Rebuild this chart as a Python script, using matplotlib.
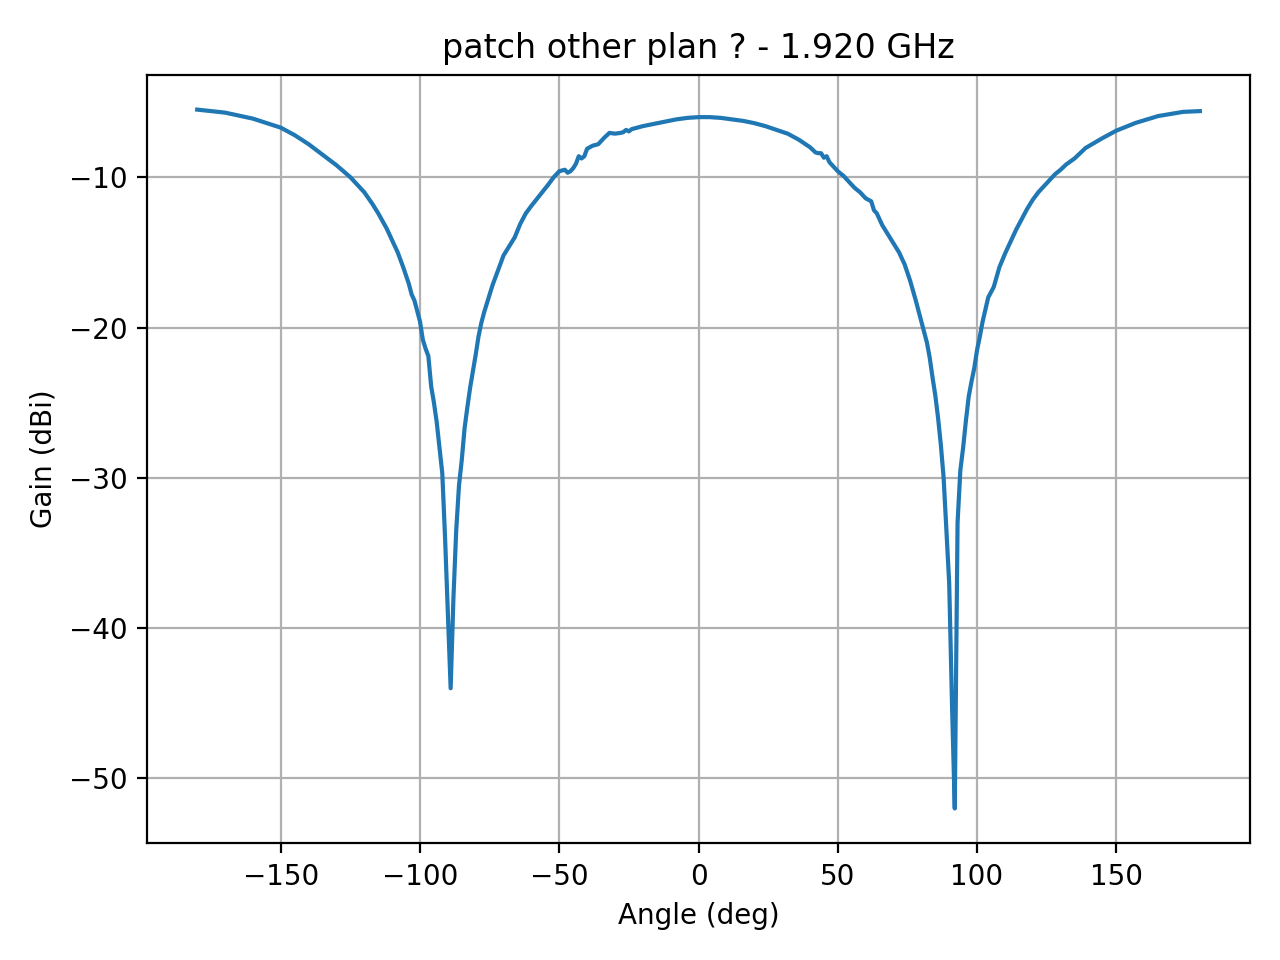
import matplotlib
matplotlib.use("Agg")
import matplotlib.pyplot as plt

angle = [-180, -175, -170, -165, -160, -155, -150, -145, -140, -135,
         -130, -125, -120, -117, -115, -112, -110, -108, -106, -104,
         -103, -102, -100, -99, -98, -97, -96, -95, -94, -93,
         -92, -91, -90, -89, -88, -87, -86, -85, -84, -83,
         -82, -81, -80, -79, -78, -77, -76, -75, -74, -72,
         -70, -68, -66, -64, -62, -60, -57, -54, -52, -50,
         -49, -48, -47, -46, -45, -44, -43, -42, -41, -40,
         -38, -36, -34, -32, -30, -28, -27, -26, -25, -24,
         -22, -20, -16, -12, -8, -4, 0, 4, 8, 12,
         16, 20, 24, 28, 32, 36, 40, 42, 43, 44,
         45, 46, 47, 50, 52, 54, 56, 58, 60, 62,
         63, 64, 66, 68, 70, 72, 74, 76, 78, 80,
         82, 83, 84, 85, 86, 87, 88, 89, 90, 91,
         92, 93, 94, 95, 96, 97, 98, 99, 100, 101,
         102, 103, 104, 106, 108, 110, 112, 114, 116, 118,
         120, 122, 124, 126, 128, 130, 132, 135, 139, 145,
         150, 157, 165, 174, 180]
gain = [-5.5, -5.6, -5.7, -5.9, -6.1, -6.4, -6.7, -7.2, -7.8, -8.5,
        -9.2, -10.0, -11.0, -11.8, -12.4, -13.4, -14.2, -15.0, -16.0, -17.1,
        -17.8, -18.2, -19.6, -20.8, -21.4, -21.9, -23.9, -25.0, -26.3, -28.0,
        -29.7, -34.0, -39.0, -44.0, -38.0, -33.5, -30.5, -28.8, -26.7, -25.3,
        -24.0, -22.9, -21.8, -20.6, -19.7, -19.0, -18.4, -17.8, -17.2, -16.2,
        -15.2, -14.6, -14.0, -13.1, -12.4, -11.9, -11.2, -10.5, -10.0, -9.6,
        -9.55, -9.5, -9.7, -9.6, -9.4, -9.1, -8.6, -8.75, -8.6, -8.1,
        -7.9, -7.8, -7.4, -7.05, -7.1, -7.05, -7.0, -6.85, -6.95, -6.8,
        -6.7, -6.6, -6.45, -6.3, -6.15, -6.05, -6.0, -6.0, -6.05, -6.15,
        -6.25, -6.4, -6.6, -6.85, -7.1, -7.5, -8.0, -8.35, -8.4, -8.4,
        -8.7, -8.6, -9.0, -9.6, -9.9, -10.3, -10.7, -11.0, -11.4, -11.6,
        -12.2, -12.4, -13.2, -13.8, -14.4, -15.0, -15.8, -16.9, -18.2, -19.6,
        -21.0, -22.0, -23.3, -24.5, -26.0, -27.8, -30.0, -33.5, -37.0, -45.0,
        -52.0, -33.0, -29.5, -28.0, -26.2, -24.6, -23.6, -22.7, -21.5, -20.6,
        -19.6, -18.8, -18.0, -17.3, -16.0, -15.1, -14.3, -13.5, -12.8, -12.1,
        -11.5, -11.0, -10.6, -10.2, -9.8, -9.5, -9.15, -8.75, -8.05, -7.4,
        -6.9, -6.38, -5.93, -5.65, -5.6]

fig, ax = plt.subplots(figsize=(6.4, 4.8))
ax.plot(angle, gain)
ax.set_xlabel("Angle (deg)")
ax.set_ylabel("Gain (dBi)")
ax.set_title("patch other plan ? - 1.920 GHz")
ax.grid(True)
plt.tight_layout()
plt.savefig("out.png", dpi=200)
plt.close()
